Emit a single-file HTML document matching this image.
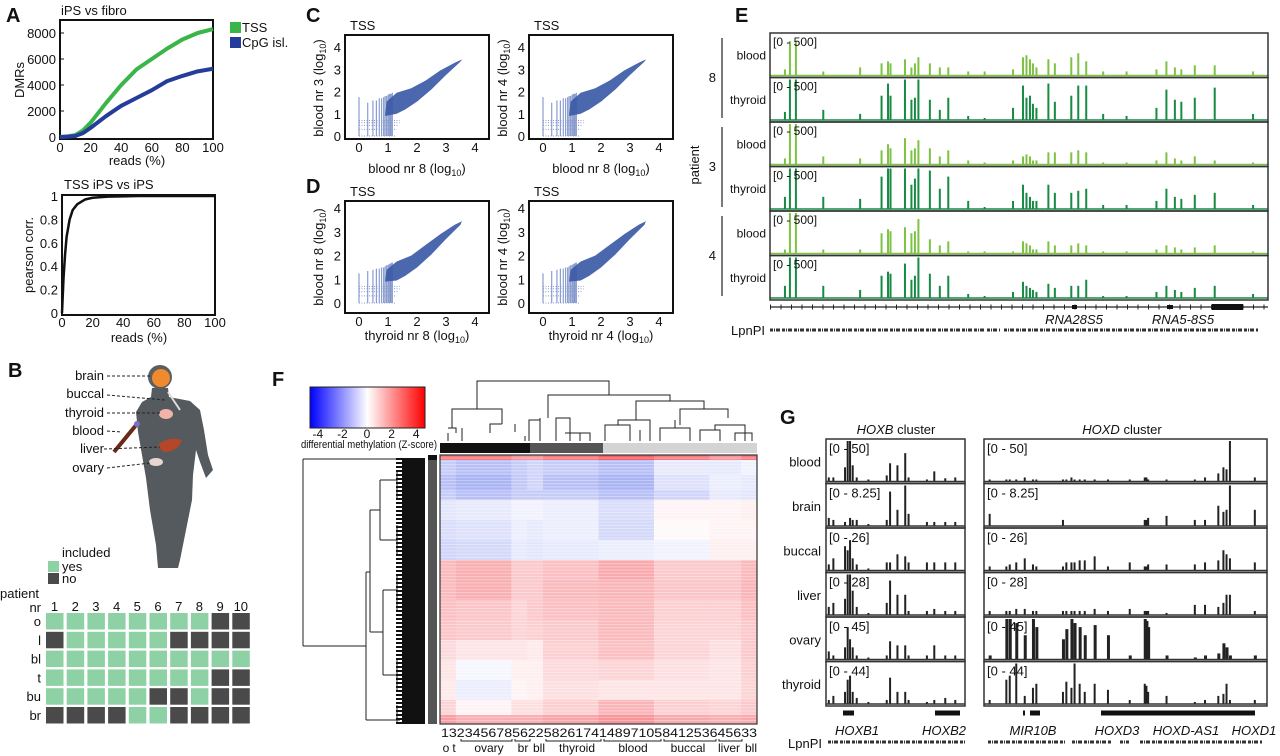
<!DOCTYPE html>
<html><head><meta charset="utf-8"><title>Figure</title>
<style>
html,body{margin:0;padding:0;background:#fff;}
svg{display:block;font-family:"Liberation Sans",Arial,sans-serif;}
.lbl{font-size:13px;fill:#111;}
.tick{font-size:13px;fill:#111;}
.sm{font-size:12px;fill:#111;}
.pl{font-size:20px;font-weight:bold;fill:#111;}
.it{font-style:italic;}
</style></head>
<body>
<svg id="fig" width="1280" height="756" viewBox="0 0 1280 756" xmlns="http://www.w3.org/2000/svg">
<defs>
<linearGradient id="zgrad" x1="0" x2="1" y1="0" y2="0">
<stop offset="0" stop-color="#0000ff"/><stop offset="0.5" stop-color="#ffffff"/><stop offset="1" stop-color="#ff0000"/>
</linearGradient>
<pattern id="rowtex" width="8" height="3.2" patternUnits="userSpaceOnUse">
<rect x="0" y="0" width="8" height="1" fill="#ffffff" opacity="0.35"/>
</pattern>
</defs>
<!-- Panel letters -->
<text class="pl" x="6" y="22">A</text>
<text class="pl" x="8" y="377">B</text>
<text class="pl" x="306" y="22">C</text>
<text class="pl" x="306" y="193">D</text>
<text class="pl" x="735" y="22">E</text>
<text class="pl" x="272" y="386">F</text>
<text class="pl" x="780" y="424">G</text>

<!-- Panel A text -->
<text class="lbl" x="61" y="15">iPS vs fibro</text>
<text class="lbl" x="137" y="165" text-anchor="middle">reads (%)</text>
<text class="lbl" transform="translate(24,80) rotate(-90)" text-anchor="middle">DMRs</text>
<rect x="230" y="22" width="11" height="11" fill="#3ab54a"/>
<text class="lbl" x="242" y="32">TSS</text>
<rect x="230" y="37" width="11" height="11" fill="#253d9a"/>
<text class="lbl" x="242" y="47">CpG isl.</text>
<text class="lbl" x="64" y="189">TSS iPS vs iPS</text>
<text class="lbl" x="139" y="342" text-anchor="middle">reads (%)</text>
<text class="lbl" transform="translate(33,255) rotate(-90)" text-anchor="middle">pearson corr.</text>

<!-- Panel C/D titles -->
<text class="lbl" x="350" y="30">TSS</text>
<text class="lbl" x="534" y="30">TSS</text>
<text class="lbl" x="350" y="196">TSS</text>
<text class="lbl" x="534" y="196">TSS</text>
<text class="lbl" x="417" y="173" text-anchor="middle">blood nr 8 (log<tspan font-size="9" dy="3">10</tspan><tspan dy="-3">)</tspan></text>
<text class="lbl" x="601" y="173" text-anchor="middle">blood nr 8 (log<tspan font-size="9" dy="3">10</tspan><tspan dy="-3">)</tspan></text>
<text class="lbl" x="417" y="340" text-anchor="middle">thyroid nr 8 (log<tspan font-size="9" dy="3">10</tspan><tspan dy="-3">)</tspan></text>
<text class="lbl" x="601" y="340" text-anchor="middle">thyroid nr 4 (log<tspan font-size="9" dy="3">10</tspan><tspan dy="-3">)</tspan></text>
<text class="lbl" transform="translate(323,88) rotate(-90)" text-anchor="middle">blood nr 3 (log<tspan font-size="9" dy="3">10</tspan><tspan dy="-3">)</tspan></text>
<text class="lbl" transform="translate(507,88) rotate(-90)" text-anchor="middle">blood nr 4 (log<tspan font-size="9" dy="3">10</tspan><tspan dy="-3">)</tspan></text>
<text class="lbl" transform="translate(323,257) rotate(-90)" text-anchor="middle">blood nr 8 (log<tspan font-size="9" dy="3">10</tspan><tspan dy="-3">)</tspan></text>
<text class="lbl" transform="translate(507,257) rotate(-90)" text-anchor="middle">blood nr 4 (log<tspan font-size="9" dy="3">10</tspan><tspan dy="-3">)</tspan></text>

<!-- Panel E labels -->
<text class="lbl" transform="translate(699,165) rotate(-90)" text-anchor="middle">patient</text>
<line x1="722" y1="38" x2="722" y2="118" stroke="#222" stroke-width="1.2"/>
<line x1="722" y1="127" x2="722" y2="207" stroke="#222" stroke-width="1.2"/>
<line x1="722" y1="216" x2="722" y2="296" stroke="#222" stroke-width="1.2"/>
<text class="lbl" x="716" y="82" text-anchor="end">8</text>
<text class="lbl" x="716" y="171" text-anchor="end">3</text>
<text class="lbl" x="716" y="260" text-anchor="end">4</text>
<text class="lbl it" x="1074" y="324" text-anchor="middle">RNA28S5</text>
<text class="lbl it" x="1183" y="324" text-anchor="middle">RNA5-8S5</text>
<text class="lbl" x="765" y="335" text-anchor="end">LpnPI</text>

<!-- Panel F labels -->
<rect x="310" y="387" width="115" height="41" fill="url(#zgrad)" stroke="#222" stroke-width="1"/>
<text x="369" y="448" font-size="11" text-anchor="middle" textLength="136" lengthAdjust="spacingAndGlyphs" fill="#111">differential methylation (Z-score)</text>
<text x="441" y="737" font-size="12" textLength="316" lengthAdjust="spacingAndGlyphs" fill="#111">1323456785622582617414897105841253645633</text>
<g font-size="12" fill="#111" text-anchor="middle">
<text x="446" y="752">o</text>
<text x="454" y="752">t</text>
<text x="489" y="752">ovary</text>
<text x="523" y="752">br</text>
<text x="539" y="752">bll</text>
<text x="577" y="752">thyroid</text>
<text x="633" y="752">blood</text>
<text x="688" y="752">buccal</text>
<text x="729" y="752">liver</text>
<text x="751" y="752">bll</text>
</g>
<path d="M461,739 V741 H512 V739 M515,739 V741 H530 V739 M546,739 V741 H601 V739 M604,739 V741 H661 V739 M664,739 V741 H716 V739 M719,739 V741 H742 V739" fill="none" stroke="#222"/>

<!-- Panel G labels -->
<text class="lbl" x="896" y="434" text-anchor="middle"><tspan class="it">HOXB</tspan> cluster</text>
<text class="lbl" x="1122" y="434" text-anchor="middle"><tspan class="it">HOXD</tspan> cluster</text>
<text class="lbl it" x="857" y="735" text-anchor="middle">HOXB1</text>
<text class="lbl it" x="944" y="735" text-anchor="middle">HOXB2</text>
<text class="lbl it" x="1033" y="735" text-anchor="middle">MIR10B</text>
<text class="lbl it" x="1117" y="735" text-anchor="middle">HOXD3</text>
<text class="lbl it" x="1186" y="735" text-anchor="middle">HOXD-AS1</text>
<text class="lbl it" x="1254" y="735" text-anchor="middle">HOXD1</text>
<text class="lbl" x="822" y="748" text-anchor="end">LpnPI</text>

<!-- Panel B -->
<g>
<polygon points="152,388 168,388 169,397 190,401 200,410 204,430 208,455 213,470 206,478 200,462 196,450 193,475 192,500 186,530 180,560 178,568 158,568 156,545 150,510 146,478 142,455 138,432 136,412 142,402 151,397" fill="#555a5e"/>
<circle cx="160" cy="377" r="12" fill="#5a5f63"/>
<circle cx="161" cy="378" r="9" fill="#f08a2c"/>
<ellipse cx="166" cy="414" rx="7" ry="5" fill="#f2b3a8"/>
<path d="M158,445 Q168,436 182,440 Q178,452 163,452 Z" fill="#b5462a"/>
<ellipse cx="156" cy="462" rx="7" ry="4" fill="#e8d6d0"/>
<line x1="114" y1="452" x2="137" y2="424" stroke="#6a2a1a" stroke-width="4"/>
<circle cx="137" cy="424" r="3" fill="#7a70c8"/>
<line x1="168" y1="392" x2="180" y2="410" stroke="#ddd" stroke-width="2"/>
</g>
<g class="lbl" text-anchor="end">
<text x="104" y="380">brain</text>
<text x="104" y="398">buccal</text>
<text x="104" y="417">thyroid</text>
<text x="104" y="435">blood</text>
<text x="104" y="453">liver</text>
<text x="104" y="472">ovary</text>
</g>
<g stroke="#222" stroke-width="1" stroke-dasharray="3,2" fill="none">
<line x1="107" y1="376" x2="152" y2="376"/>
<line x1="107" y1="395" x2="165" y2="400"/>
<line x1="107" y1="413" x2="160" y2="413"/>
<line x1="107" y1="431" x2="122" y2="432"/>
<line x1="104" y1="449" x2="160" y2="447"/>
<line x1="107" y1="468" x2="150" y2="463"/>
</g>
<text class="lbl" x="62" y="557">included</text>
<rect x="48" y="561" width="11" height="11" fill="#8ed1a4"/>
<text class="lbl" x="62" y="571">yes</text>
<rect x="48" y="573" width="11" height="11" fill="#4a4a4a"/>
<text class="lbl" x="62" y="583">no</text>
<text class="lbl" x="0" y="598">patient</text>
<text class="lbl" x="41" y="612" text-anchor="end">nr</text>

<g id="chartA"></g><g id="chartB"></g><g id="chartC"></g><g id="chartE"></g><g id="chartF"></g><g id="chartG"></g><g id="grid"></g>
</svg>
<script>
// ---------- DATA ----------
// Panel A top
const aReads = [0,5,10,15,20,30,40,50,60,70,80,90,100];
const aTSS = [0,50,150,500,1100,2600,4000,5200,6000,6800,7500,8000,8300];
const aCpG = [0,30,80,300,700,1600,2400,3000,3600,4300,4700,5050,5250];
const aTopYTicks = [0,2000,4000,6000,8000];
const aXTicks = [0,20,40,60,80,100];
// Panel A bottom
const bReads = [0,1,2,3,5,7,10,15,20,30,50,100];
const bCorr = [0,0.3,0.5,0.65,0.8,0.88,0.93,0.97,0.985,0.995,1,1];
const bYTicks = [0,0.2,0.4,0.6,0.8,1];
const bYTickLabels = ["0","0.2","0.4","0.6","0.8","1"];
// Scatter panels C/D
const scTicks = [0,1,2,3,4];
const cloudX = [0.9,1.3,1.6,2.0,2.5,3.0,3.5,3.55,3.3,2.8,2.3,1.8,1.3,0.95];
const cloudYC = [0.9,1.0,1.2,1.55,2.1,2.75,3.35,3.45,3.3,2.95,2.5,2.15,1.95,1.55];
const cloudYD = [0.9,0.95,1.15,1.5,2.05,2.7,3.3,3.45,3.3,2.9,2.45,2.0,1.75,1.4];
const stripeX = [0,0.3,0.48,0.6,0.7,0.78,0.85,0.9,0.95,1.0,1.04,1.08,1.11,1.15];
const stripeTopC = [1.75,1.5,1.6,1.6,1.7,1.7,1.75,1.8,1.8,1.85,1.9,1.9,1.9,1.95];
const stripeTopD = [1.25,1.35,1.4,1.45,1.45,1.5,1.5,1.55,1.6,1.6,1.65,1.65,1.7,1.7];
const levelY = [0,0.3,0.48,0.6,0.7];
const levelEnd = [1.25,1.3,1.35,1.4,1.4];
// Panel E tracks
const ePos = [0.03,0.04,0.052,0.107,0.181,0.224,0.237,0.242,0.271,0.284,0.291,0.298,0.321,0.341,0.358,0.398,0.431,0.488,0.508,0.515,0.522,0.528,0.535,0.559,0.572,0.605,0.619,0.635,0.669,0.716,0.776,0.796,0.813,0.826,0.853,0.893,0.97];
const eTrackNames = ["blood","thyroid","blood","thyroid","blood","thyroid"];
const eBlood8 = [0.15,0.85,0.85,0.1,0.2,0.3,0.35,0.3,0.4,0.2,0.3,0.45,0.3,0.2,0.2,0.1,0.1,0.15,0.45,0.5,0.4,0.3,0.2,0.4,0.3,0.45,0.55,0.35,0.1,0.1,0.15,0.35,0.2,0.15,0.25,0.25,0.1];
const eThyroid8 = [0.2,1,1,0.25,0.15,0.6,0.9,0.6,1,0.5,0.55,1,0.5,0.25,0.55,0.1,0.05,0.3,0.85,0.55,0.6,0.4,0.3,0.9,0.45,0.6,0.85,0.85,0.15,0.1,0.3,0.75,0.5,0.45,0.55,0.8,0.15];
const eBlood3 = [0.15,1,1,0.2,0.15,0.35,0.5,0.4,0.65,0.35,0.4,0.6,0.4,0.2,0.35,0.1,0.05,0.1,0.2,0.25,0.2,0.1,0.1,0.3,0.3,0.3,0.35,0.3,0.05,0.05,0.1,0.3,0.15,0.1,0.2,0.1,0.05];
const eThyroid3 = [0.3,1,1,0.3,0.25,0.8,1,1,1,0.6,0.75,1,0.95,0.5,0.8,0.2,0.05,0.2,0.6,0.4,0.3,0.2,0.2,0.6,0.4,0.4,0.45,0.5,0.1,0.1,0.2,0.5,0.3,0.25,0.35,0.4,0.1];
const eBlood4 = [0.1,1,1,0.1,0.1,0.5,0.6,0.55,0.65,0.5,0.55,0.85,0.35,0.2,0.3,0.05,0.05,0.05,0.3,0.25,0.2,0.1,0.1,0.3,0.2,0.2,0.25,0.2,0.05,0.05,0.1,0.2,0.15,0.1,0.15,0.2,0.05];
const eThyroid4 = [0.3,1,1,0.3,0.2,0.55,0.65,0.6,0.85,0.45,0.55,1,0.6,0.3,0.55,0.1,0.05,0.15,0.4,0.3,0.25,0.2,0.15,0.35,0.25,0.3,0.3,0.45,0.05,0.05,0.15,0.3,0.2,0.15,0.25,0.3,0.1];
// Panel F heatmap bands: [ot, ovary, br, bl, thyroid, blood, buccal, liver, bl]
const fGroupCols = [2,7,2,2,7,7,7,4,2];
const fBandRows = [5,15,15,10,20,20,20,20,20,20,20,20,20,20,15,9];
const fBand0 = [2.5,2.5,2,2,2.5,3,2.5,2,2.5];
const fBand1 = [-1.2,-1.5,-1.2,-1.0,-1.2,-1.5,-0.5,-0.5,-0.3];
const fBand2 = [-1.5,-1.8,-1.3,-1.0,-1.5,-1.8,-0.7,-0.4,-0.5];
const fBand3 = [-1.2,-1.5,-1.2,-1.2,-1.2,-1.5,-1.0,-0.5,-0.6];
const fBand4 = [-0.6,-0.5,-0.3,-0.3,-0.4,-0.8,0.2,0.2,0.3];
const fBand5 = [-0.8,-0.7,-0.4,-0.5,-0.4,-0.9,0.1,0.2,0.2];
const fBand6 = [-1.0,-0.9,-0.5,-0.6,-0.5,-0.4,-0.3,0.3,0.3];
const fBand7 = [1.3,1.5,1.0,1.0,1.2,1.6,1.0,1.0,1.3];
const fBand8 = [1.3,1.5,1.0,1.0,1.3,1.4,1.1,1.1,1.4];
const fBand9 = [1.2,1.1,0.8,1.0,1.2,1.3,0.9,0.9,1.2];
const fBand10 = [1.1,1.0,0.8,0.9,1.0,1.3,0.8,0.8,1.0];
const fBand11 = [0.7,0.5,0.5,0.4,0.9,1.2,0.8,0.6,1.0];
const fBand12 = [0.5,-0.2,0.3,0.3,0.7,0.8,0.6,0.5,0.9];
const fBand13 = [0.4,-0.4,0.2,0.3,0.6,0.5,0.5,0.5,0.8];
const fBand14 = [0.8,0.2,0.6,0.6,0.9,1.4,0.9,0.8,1.0];
const fBand15 = [1.8,1.5,1.5,1.5,1.7,2.0,1.6,1.5,1.6];
const fColorTicks = [-4,-2,0,2,4];
// Panel G
const gTissues = ["blood","brain","buccal","liver","ovary","thyroid"];
const gRanges = ["[0 - 50]","[0 - 8.25]","[0 - 26]","[0 - 28]","[0 - 45]","[0 - 44]"];
const gPosB = [0.02,0.053,0.137,0.156,0.173,0.192,0.221,0.305,0.437,0.461,0.514,0.57,0.594,0.726,0.779,0.858,0.93];
const gBlood = [0.1,0.1,0.35,1,1,0.4,0.1,0.05,0.15,0.45,0.4,0.7,0.1,0.05,0.25,0.08,0.1];
const gBrain = [0.2,0.15,0.1,0.0,0.2,0.15,0.15,0.05,0.15,0.85,0.4,1,0.3,0.1,0.1,0.1,0.1];
const gBuccal = [0.15,0.3,0.6,0.5,0.75,0.3,0.15,0.05,0.2,0.2,0.4,0.35,0.2,0.2,0.2,0.2,0.2];
const gLiver = [0.2,0.3,0.4,1,1,0.6,0.2,0.05,0.3,0.85,0.5,0.5,0.1,0.1,0.15,0.1,0.1];
const gOvary = [0.2,0.1,0.3,0.8,0.5,0.3,0.1,0.05,0.1,0.45,0.35,0.35,0.1,0.1,0.35,0.1,0.1];
const gThyroid = [0.1,0.2,0.3,0.6,0.7,0.3,0.15,0.05,0.1,0.65,0.3,0.3,0.1,0.05,0.1,0.15,0.1];
const gPosD = [0.02,0.079,0.091,0.114,0.144,0.173,0.185,0.279,0.291,0.309,0.32,0.338,0.356,0.391,0.438,0.515,0.568,0.574,0.58,0.645,0.745,0.781,0.828,0.846,0.857,0.869,0.957];
const dBlood = [0.05,0.05,0.05,0.05,0.1,0.05,0.05,0.05,0.05,0.1,0.05,0.05,0.05,0.05,0.05,0.05,0.1,0.1,0.05,0.05,0.05,0.1,0.2,0.35,0.3,1,0.1];
const dBrain = [0.3,0,0,0,0,0,0,0.15,0,0,0,0,0,0,0,0,0.15,0.15,0.2,0.25,0.15,0.15,0.5,0.35,0.4,1,0.4];
const dBuccal = [0.1,0.1,0.15,0.2,0.3,0.15,0.1,0.1,0.2,0.2,0.2,0.25,0.25,0.35,0.1,0.2,0.1,0.1,0.15,0.15,0.15,0.2,0.25,0.5,0.4,0.3,0.2];
const dLiver = [0.1,0.1,0.1,0.15,0.15,0.1,0.1,0.1,0.1,0.1,0.1,0.1,0.1,0.15,0.1,0.15,0.1,0.1,0.1,0.05,0.25,0.25,0.2,0.3,0.5,0.5,0.1];
const dOvary = [0.1,1,1,0.9,0.6,1,0.8,0.5,0.75,1,0.9,0.8,0.6,0.85,0.6,0.1,1,0.95,0.8,0.1,0.05,0.1,0.15,0.4,0.3,0.1,0.1];
const dThyroid = [0.1,0.6,0.7,1,0.2,0.4,0.5,0.3,0.55,0.4,1,0.5,0.3,0.5,0.35,0.1,0.5,0.45,0.3,0.2,0.05,0.1,0.2,0.25,0.5,0.1,0.1];
// Panel B grid: 1 = included
const gridRows = ["o","l","bl","t","bu","br"];
const gridCols = ["1","2","3","4","5","6","7","8","9","10"];
const incO  = [1,1,1,1,1,1,1,1,0,0];
const incL  = [0,1,1,1,1,1,0,0,0,0];
const incBl = [1,1,1,1,1,1,1,1,1,1];
const incT  = [1,1,1,1,1,1,1,1,0,0];
const incBu = [1,1,1,1,1,0,0,1,0,0];
const incBr = [0,0,0,0,1,1,0,0,0,0];

// ---------- helpers ----------
const NS = "http://www.w3.org/2000/svg";
function mk(tag, attrs, parent){ const e=document.createElementNS(NS,tag); for(const k in attrs) e.setAttribute(k,attrs[k]); parent.appendChild(e); return e; }
function txt(parent, x, y, s, anchor, cls){ const t=mk("text",{x:x,y:y,"text-anchor":anchor||"start","class":cls||"tick"},parent); t.textContent=s; return t; }

// ---------- Panel A top ----------
(function(){
  const g=document.getElementById("chartA");
  const X=v=>60+v*1.53, Y=v=>137-v*0.013;
  const box=mk("rect",{x:60,y:20,width:153,height:119,fill:"none",stroke:"#111","stroke-width":2},g);
  
  
  aTopYTicks.forEach(v=>{ const t=txt(g,56,Y(v)+5,String(v),"end");
    
    
    const l=mk("line",{x1:60,x2:64,y1:Y(v),y2:Y(v),stroke:"#111"},g);
    
     });
  aXTicks.forEach(v=>{ const t=txt(g,X(v),152,String(v),"middle");
    
     });
  const pT=mk("polyline",{points:aReads.map((r,i)=>X(r)+","+Y(aTSS[i])).join(" "),fill:"none",stroke:"#3ab54a","stroke-width":4,"stroke-linejoin":"round"},g);
  
  
  const pC=mk("polyline",{points:aReads.map((r,i)=>X(r)+","+Y(aCpG[i])).join(" "),fill:"none",stroke:"#253d9a","stroke-width":4,"stroke-linejoin":"round"},g);
  
  
})();

// ---------- Panel A bottom ----------
(function(){
  const g=document.getElementById("chartB");
  const X=v=>62+v*1.53, Y=v=>313-v*117;
  const box=mk("rect",{x:62,y:195,width:153,height:120,fill:"none",stroke:"#111","stroke-width":2},g);
  
  
  bYTicks.forEach((v,i)=>{ const t=txt(g,58,Y(v)+5,bYTickLabels[i],"end");
    
     });
  aXTicks.forEach(v=>{ const t=txt(g,X(v),327,String(v),"middle");
    
     });
  const p=mk("polyline",{points:bReads.map((r,i)=>X(r)+","+Y(bCorr[i])).join(" "),fill:"none",stroke:"#111","stroke-width":2.5,"stroke-linejoin":"round"},g);
  
  
})();

// ---------- Scatter C/D ----------
(function(){
  const g=document.getElementById("chartC");
  const panels=[{bx:345,top:35,bot:139,y0:136,ys:22.2,ty:cloudYC,st:stripeTopC,n:"c1"},
                {bx:529,top:35,bot:139,y0:136,ys:22.2,ty:cloudYC,st:stripeTopC,n:"c2"},
                {bx:345,top:201,bot:313,y0:303,ys:23.7,ty:cloudYD,st:stripeTopD,n:"d1"},
                {bx:529,top:201,bot:313,y0:303,ys:23.7,ty:cloudYD,st:stripeTopD,n:"d2"}];
  panels.forEach(P=>{
    const X=v=>P.bx+14+v*29, Y=v=>P.y0-v*P.ys;
    stripeX.forEach((sx,i)=>{ const l=mk("line",{x1:X(sx),x2:X(sx),y1:Y(0),y2:Y(P.st[i]),stroke:"#6f86c4","stroke-width":1.2,opacity:0.8},g);
      
       });
    levelY.forEach((ly,i)=>{ const l=mk("line",{x1:X(0),x2:X(levelEnd[i]),y1:Y(ly),y2:Y(ly),stroke:"#8a9bd0","stroke-width":1,"stroke-dasharray":"1,1.5"},g);
      
       });
    const c=mk("polygon",{points:cloudX.map((x,i)=>X(x)+","+Y(P.ty[i])).join(" "),fill:"#3c5aa6",opacity:0.92},g);
    
    
    const box=mk("rect",{x:P.bx,y:P.top,width:144,height:P.bot-P.top,fill:"none",stroke:"#111","stroke-width":2},g);
    
    
    scTicks.forEach(v=>{
      const tx=txt(g,X(v),P.bot+13,String(v),"middle");
      
      
      const ty=txt(g,P.bx-4,Y(v)+5,String(v),"end");
      
      
    });
  });
})();

// ---------- Panel E ----------
(function(){
  const g=document.getElementById("chartE");
  const tracks=[eBlood8,eThyroid8,eBlood3,eThyroid3,eBlood4,eThyroid4];
  const L=770, W=498, T0=33, H=44.5;
  tracks.forEach((arr,ti)=>{
    const top=T0+ti*H, base=top+H-2;
    const col = ti%2===0 ? "#7dc242" : "#178a43";
    const bl=mk("line",{x1:L,x2:L+W,y1:base,y2:base,stroke:col,"stroke-width":1.5},g);
    
    
    ePos.forEach((p,i)=>{ const h=arr[i]*(H-4);
      const r=mk("rect",{x:L+p*W-1,y:base-h,width:2,height:h,fill:col},g);
      
       });
    const f=mk("rect",{x:L,y:top,width:W,height:H,fill:"none",stroke:"#333","stroke-width":1.5},g);
    
    
    const rt=txt(g,L+3,top+13,"[0 - 500]","start","sm");
    
    
    const nm=txt(g,766,top+H/2+4,eTrackNames[ti],"end","sm");
    
    
  });
  const ax=mk("line",{x1:L,x2:L+W,y1:307,y2:307,stroke:"#222","stroke-width":1.2},g);
  
  
  const tk=mk("line",{x1:L,x2:L+W,y1:307,y2:307,stroke:"#222","stroke-width":5,"stroke-dasharray":"1,9.5"},g);
  
  
  const gb=mk("rect",{x:1212,y:304,width:31,height:6,fill:"#111"},g);
  
  
  const g1=mk("rect",{x:1072,y:305,width:5,height:4,fill:"#111"},g);
  
  
  const g2=mk("rect",{x:1167,y:305,width:6,height:4,fill:"#111"},g);
  
  
  const lp=mk("path",{d:"M770,330 H984 M987,330 H1000 M1004,330 H1258",stroke:"#333","stroke-width":3,"stroke-dasharray":"3,1,1,1,4,2"},g);
  
  
})();

// ---------- Panel F ----------
(function(){
  const g=document.getElementById("chartF");
  const bands=[fBand0,fBand1,fBand2,fBand3,fBand4,fBand5,fBand6,fBand7,fBand8,fBand9,fBand10,fBand11,fBand12,fBand13,fBand14,fBand15];
  const HX=440, HW=317, HY=455, HH=269;
  const nCols=fGroupCols.reduce((a,b)=>a+b,0);
  const nRows=fBandRows.reduce((a,b)=>a+b,0);
  const cw=HW/nCols, rh=HH/nRows;
  function zc(z){ const t=Math.min(1,Math.abs(z)/4);
    if(z<0) return "rgb("+Math.round(255-t*190)+","+Math.round(255-t*170)+","+Math.round(255-t*25)+")";
    return "rgb("+Math.round(255-t*15)+","+Math.round(255-t*215)+","+Math.round(255-t*205)+")"; }
  let r0=0;
  bands.forEach((vals,b)=>{
    let c0=0;
    vals.forEach((v,gi)=>{
      const cell=mk("rect",{x:HX+c0*cw,y:HY+r0*rh,width:fGroupCols[gi]*cw+0.5,height:fBandRows[b]*rh+0.5,fill:zc(v)},g);
      
      
      c0+=fGroupCols[gi];
    });
    r0+=fBandRows[b];
  });
  const tex=mk("rect",{x:HX,y:HY,width:HW,height:HH,fill:"url(#rowtex)"},g);
  
  
  const hf=mk("rect",{x:HX,y:HY,width:HW,height:HH,fill:"none",stroke:"#333","stroke-width":1.2},g);
  
  
  const cb1=mk("rect",{x:440,y:443,width:90,height:10,fill:"#111"},g);
  
  
  const cb2=mk("rect",{x:530,y:443,width:73,height:10,fill:"#555"},g);
  
  
  const cb3=mk("rect",{x:603,y:443,width:154,height:10,fill:"#d4d4d4"},g);
  
  
  const sb=mk("rect",{x:428,y:455,width:9,height:269,fill:"#555"},g);
  
  
  const sb2=mk("rect",{x:428,y:455,width:9,height:5,fill:"#111"},g);
  
  
  fColorTicks.forEach(v=>{ const t=txt(g,367+v*12.3,438,String(v),"middle","sm");
    
     });
  const cd=mk("path",{d:"M477,409 V381 H609 V395 M452,428 V409 H502 V415 M548,418 V395 H670 V401 M636,420 V401 H704 V409 M680,425 V409 H728 V418 M456,433 V428 H448 M448,441 V433 M462,441 V428 M490,433 V424 H502 M502,415 V424 M515,432 V424 M525,436 V441 M529,441 V420 H540 V418 M540,418 V441 M556,441 V418 H570 V441 M565,433 H590 V441 M580,441 V433 M605,441 V425 H630 V441 M618,425 V420 H650 V441 M640,441 V430 M660,441 V428 H690 V441 M675,428 V420 M700,441 V430 H720 V441 M715,430 V425 H745 V441 M735,441 V433 H752 V441",fill:"none",stroke:"#222","stroke-width":1},g);
  
  
  const rd=mk("path",{d:"M303,459 V646 M303,459 H400 M303,646 H366 M366,572 V720 M366,720 H400 M366,572 H370 M370,510 V632 M370,510 H380 M380,480 V540 M380,480 H397 M380,540 H397 M370,632 H383 M383,590 V675 M383,590 H397 M383,675 H397 M397,470 V500 M397,525 V555 M397,575 V610 M397,660 V690 M397,705 V722",fill:"none",stroke:"#222","stroke-width":1},g);
  
  
  const comb=mk("rect",{x:402,y:458,width:23,height:266,fill:"#111"},g);
  
  
  const comb2=mk("path",{d:"M399,458 V724",stroke:"#111","stroke-width":6,"stroke-dasharray":"2,2"},g);
  
  
})();

// ---------- Panel G ----------
(function(){
  const g=document.getElementById("chartG");
  const bArr=[gBlood,gBrain,gBuccal,gLiver,gOvary,gThyroid];
  const dArr=[dBlood,dBrain,dBuccal,dLiver,dOvary,dThyroid];
  const T0=439, H=44.5;
  const blocks=[{x:826,w:139,pos:gPosB,arr:bArr,n:"hoxb"},{x:984,w:283,pos:gPosD,arr:dArr,n:"hoxd"}];
  gTissues.forEach((tn,ti)=>{
    const top=T0+ti*H, base=top+H-2;
    blocks.forEach(B=>{
      B.pos.forEach((p,i)=>{ const h=B.arr[ti][i]*(H-4);
        const r=mk("rect",{x:B.x+p*B.w-1,y:base-h,width:B.n==="hoxd"&&ti===4?3:2,height:h,fill:"#222"},g);
        
         });
      const bl=mk("line",{x1:B.x,x2:B.x+B.w,y1:base,y2:base,stroke:"#333","stroke-width":1.5},g);
      
      
      const f=mk("rect",{x:B.x,y:top,width:B.w,height:H,fill:"none",stroke:"#333","stroke-width":1.5},g);
      
      
      const rt=txt(g,B.x+3,top+14,gRanges[ti],"start","lbl");
      
      
    });
    const nm=txt(g,821,top+H/2+5,tn,"end","lbl");
    
    
  });
  const gm=mk("path",{d:"M843,713 H854 M935,713 H960 M1023,713 H1025 M1030,713 H1040 M1101,713 H1255 M1130,713 H1136 M1144,713 H1175 M1241,713 H1253",fill:"none",stroke:"#111","stroke-width":5},g);
  
  
  const gl=mk("line",{x1:1101,x2:1255,y1:713,y2:713,stroke:"#111","stroke-width":1.2},g);
  
  
  const lp=mk("path",{d:"M828,742 H965 M988,742 H1065 M1072,742 H1112 M1120,742 H1129 M1140,742 H1262",stroke:"#333","stroke-width":3,"stroke-dasharray":"3,1,1,1,4,2"},g);
  
  
})();

// ---------- Panel B grid ----------
(function(){
  const g=document.getElementById("grid");
  const inc=[incO,incL,incBl,incT,incBu,incBr];
  const X0=46, PX=20.7, Y0=613, PY=18.8;
  gridCols.forEach((c,j)=>{ const t=txt(g,X0+j*PX+8.5,611,c,"middle","lbl");
    
     });
  gridRows.forEach((r,i)=>{
    const t=txt(g,41,Y0+i*PY+13,r,"end","lbl");
    
    
    inc[i].forEach((v,j)=>{
      const cell=mk("rect",{x:X0+j*PX,y:Y0+i*PY,width:17.5,height:16.5,fill:v?"#8ed1a4":"#4a4a4a"},g);
      
      
    });
  });
})();
</script>
</body></html>
